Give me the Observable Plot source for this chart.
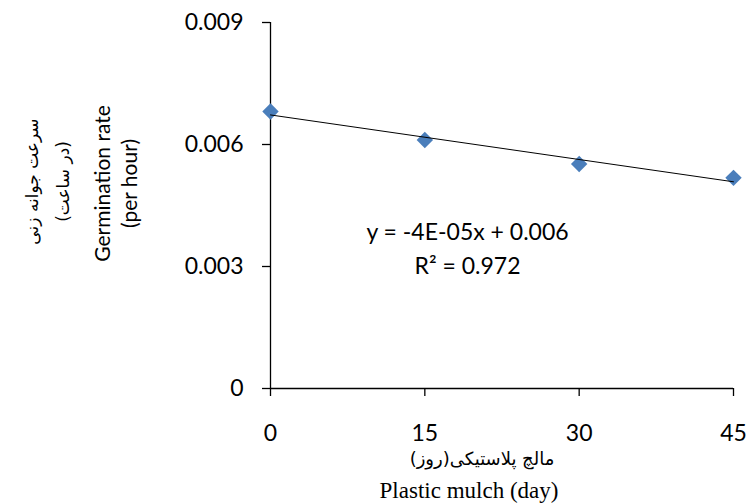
<!DOCTYPE html>
<html><head><meta charset="utf-8">
<script src="https://cdn.jsdelivr.net/npm/d3@7"></script>
<script src="https://cdn.jsdelivr.net/npm/@observablehq/plot@0.6"></script>
<style>body{margin:0;background:#fff}</style>
</head><body><div id="chart"></div>
<script>
const days = [0, 15, 30, 45];
const rates = [0.00681, 0.00611, 0.00552, 0.00518];
const yTicks = [0, 0.003, 0.006, 0.009];
const yTickLabels = ["0", "0.003", "0.006", "0.009"];
const xTicks = [0, 15, 30, 45];
const yLabelEn = "Germination rate\n(per hour)";
const yLabelFa = "سرعت جوانه زنی\n(در ساعت)";
const xLabelFa = "مالچ پلاستیکی(روز)";
const xLabelEn = "Plastic mulch (day)";
const equation = "y = -4E-05x + 0.006\nR² = 0.972";

const data = days.map((d, i) => ({day: d, rate: rates[i]}));

const chart = Plot.plot({
  width: 748, height: 504,
  marginLeft: 270, marginRight: 15, marginTop: 22, marginBottom: 116,
  style: {fontFamily: "Lato", fontSize: "23px", color: "#000", background: "#fff", overflow: "visible"},
  x: {domain: [0, 45]},
  y: {domain: [0, 0.009]},
  marks: [
    Plot.axisY({ticks: yTicks, tickFormat: d => yTickLabels[yTicks.indexOf(d)], tickSize: 8, tickPadding: 19, label: null, strokeWidth: 1.3}),
    Plot.axisX({ticks: xTicks, tickFormat: d => String(d), tickSize: 8, tickPadding: 28, label: null, strokeWidth: 1.3}),
    Plot.ruleX([0], {stroke: "#000", strokeWidth: 1.3}),
    Plot.ruleY([0], {stroke: "#000", strokeWidth: 1.3}),
    Plot.dot(data, {x: "day", y: "rate", symbol: "diamond2", r: 7.4, fill: "#4a7ebb", stroke: "none"}),
    Plot.linearRegressionY(data, {x: "day", y: "rate", ci: 0, stroke: "#000", strokeWidth: 1}),
    Plot.text([equation], {frameAnchor: "top-left", dx: 197, dy: 224, textAnchor: "middle", lineAnchor: "middle", fontSize: 23, lineHeight: 1.48, fill: "#000"}),
    Plot.text([yLabelEn], {frameAnchor: "left", rotate: -90, dx: -156, dy: -22, textAnchor: "middle", lineAnchor: "middle", fontSize: 21, lineHeight: 1.29, fill: "#000"}),
    Plot.text([yLabelFa], {frameAnchor: "left", rotate: -90, dx: -227, dy: -24, textAnchor: "middle", lineAnchor: "middle", fontSize: 17, lineHeight: 1.85, fontFamily: "DejaVu Sans", fill: "#000"}),
    Plot.text([xLabelFa], {frameAnchor: "bottom", dx: -20, dy: 71, textAnchor: "middle", lineAnchor: "middle", fontSize: 18, fontFamily: "DejaVu Sans", fill: "#000"}),
    Plot.text([xLabelEn], {frameAnchor: "bottom", dx: -33, dy: 102, textAnchor: "middle", lineAnchor: "middle", fontSize: 23, fontFamily: "Liberation Serif", fill: "#000"})
  ]
});
document.getElementById("chart").append(chart);
</script>
</body></html>
